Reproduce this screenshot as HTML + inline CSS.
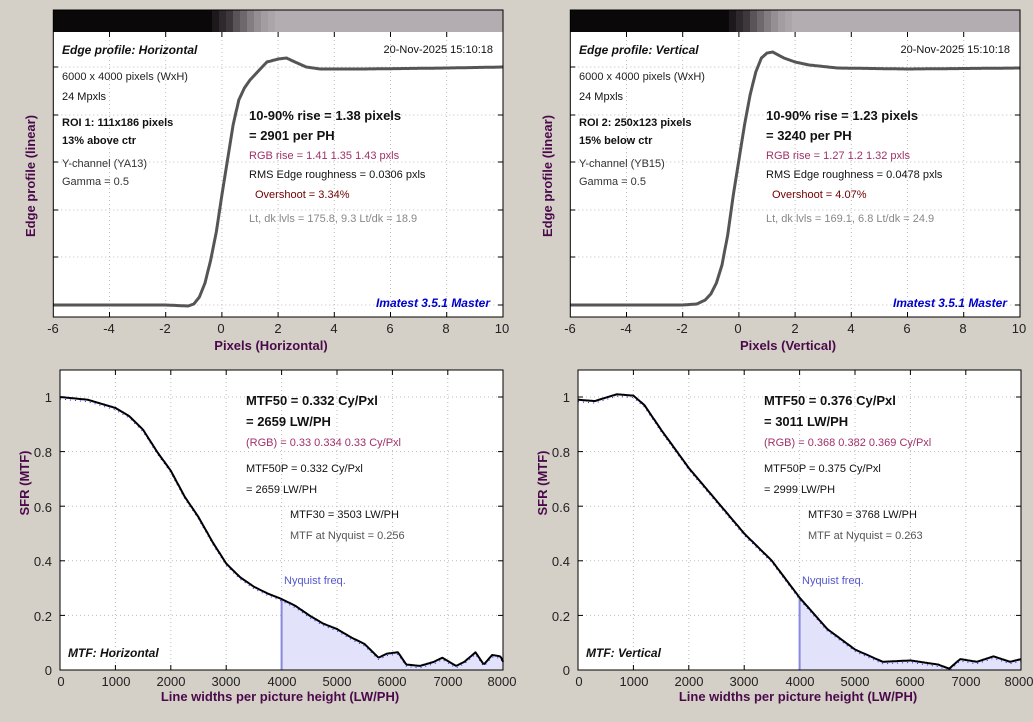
<!DOCTYPE html>
<html><head><meta charset="utf-8"><style>
html,body{margin:0;padding:0;background:#d4d0c8;}
svg{display:block;font-family:"Liberation Sans",sans-serif;}
.t{font-size:11px}
.b{font-size:13px;font-weight:bold}
.tk{font-size:13px}
.ax{font-size:13px;font-weight:bold}
</style></head><body>
<svg id="s" width="1033" height="722" viewBox="0 0 1033 722" xmlns="http://www.w3.org/2000/svg" fill="#111">
<rect width="1033" height="722" fill="#d4d0c8"/>
<g id="dyn"></g>
<!-- Top-left text -->
<text x="62" y="54" class="b" font-style="italic" style="font-size:12px">Edge profile: Horizontal</text>
<text x="493" y="53" class="t" text-anchor="end">20-Nov-2025 15:10:18</text>
<text x="62" y="80" class="t" fill="#222">6000 x 4000 pixels (WxH)</text>
<text x="62" y="100" class="t">24 Mpxls</text>
<text x="62" y="126" class="t" font-weight="bold">ROI 1:  111x186 pixels</text>
<text x="62" y="144" class="t" font-weight="bold">13% above ctr</text>
<text x="62" y="167" class="t" fill="#333">Y-channel  (YA13)</text>
<text x="62" y="185" class="t" fill="#333">Gamma = 0.5</text>
<text x="249" y="120" class="b">10-90% rise = 1.38 pixels</text>
<text x="249" y="140" class="b">= 2901 per PH</text>
<text x="249" y="159" class="t" fill="#a0306a">RGB rise = 1.41  1.35  1.43 pxls</text>
<text x="249" y="178" class="t">RMS Edge roughness = 0.0306 pxls</text>
<text x="255" y="198" class="t" fill="#700000">Overshoot = 3.34%</text>
<text x="249" y="222" class="t" fill="#888">Lt, dk lvls = 175.8, 9.3   Lt/dk = 18.9</text>
<text x="490" y="307" font-size="12" font-weight="bold" font-style="italic" fill="#0000cc" text-anchor="end">Imatest 3.5.1 Master</text>
<text x="271" y="350" class="ax" fill="#4a0a4a" text-anchor="middle">Pixels (Horizontal)</text>
<text transform="translate(35,176) rotate(-90)" class="ax" fill="#4a0a4a" text-anchor="middle">Edge profile (linear)</text>
<!-- Top-right text -->
<text x="579" y="54" class="b" font-style="italic" style="font-size:12px">Edge profile: Vertical</text>
<text x="1010" y="53" class="t" text-anchor="end">20-Nov-2025 15:10:18</text>
<text x="579" y="80" class="t" fill="#222">6000 x 4000 pixels (WxH)</text>
<text x="579" y="100" class="t">24 Mpxls</text>
<text x="579" y="126" class="t" font-weight="bold">ROI 2:  250x123 pixels</text>
<text x="579" y="144" class="t" font-weight="bold">15% below ctr</text>
<text x="579" y="167" class="t" fill="#333">Y-channel  (YB15)</text>
<text x="579" y="185" class="t" fill="#333">Gamma = 0.5</text>
<text x="766" y="120" class="b">10-90% rise = 1.23 pixels</text>
<text x="766" y="140" class="b">= 3240 per PH</text>
<text x="766" y="159" class="t" fill="#a0306a">RGB rise = 1.27  1.2  1.32 pxls</text>
<text x="766" y="178" class="t">RMS Edge roughness = 0.0478 pxls</text>
<text x="772" y="198" class="t" fill="#700000">Overshoot = 4.07%</text>
<text x="766" y="222" class="t" fill="#888">Lt, dk lvls = 169.1, 6.8   Lt/dk = 24.9</text>
<text x="1007" y="307" font-size="12" font-weight="bold" font-style="italic" fill="#0000cc" text-anchor="end">Imatest 3.5.1 Master</text>
<text x="788" y="350" class="ax" fill="#4a0a4a" text-anchor="middle">Pixels (Vertical)</text>
<text transform="translate(552,176) rotate(-90)" class="ax" fill="#4a0a4a" text-anchor="middle">Edge profile (linear)</text>
<!-- Bottom-left text -->
<text x="246" y="405" class="b">MTF50 = 0.332 Cy/Pxl</text>
<text x="246" y="426" class="b">= 2659 LW/PH</text>
<text x="246" y="446" class="t" fill="#a0306a">(RGB) = 0.33  0.334  0.33 Cy/Pxl</text>
<text x="246" y="472" class="t">MTF50P = 0.332 Cy/Pxl</text>
<text x="246" y="493" class="t">= 2659 LW/PH</text>
<text x="290" y="518" class="t">MTF30 = 3503 LW/PH</text>
<text x="290" y="539" class="t" fill="#555">MTF at Nyquist = 0.256</text>
<text x="284" y="584" class="t" fill="#5555cc">Nyquist freq.</text>
<text x="68" y="657" class="b" font-style="italic" style="font-size:12px">MTF: Horizontal</text>
<text x="280" y="701" class="ax" fill="#4a0a4a" text-anchor="middle">Line widths per picture height (LW/PH)</text>
<text transform="translate(29,483) rotate(-90)" class="ax" fill="#4a0a4a" text-anchor="middle">SFR (MTF)</text>
<!-- Bottom-right text -->
<text x="764" y="405" class="b">MTF50 = 0.376 Cy/Pxl</text>
<text x="764" y="426" class="b">= 3011 LW/PH</text>
<text x="764" y="446" class="t" fill="#a0306a">(RGB) = 0.368  0.382  0.369 Cy/Pxl</text>
<text x="764" y="472" class="t">MTF50P = 0.375 Cy/Pxl</text>
<text x="764" y="493" class="t">= 2999 LW/PH</text>
<text x="808" y="518" class="t">MTF30 = 3768 LW/PH</text>
<text x="808" y="539" class="t" fill="#555">MTF at Nyquist = 0.263</text>
<text x="802" y="584" class="t" fill="#5555cc">Nyquist freq.</text>
<text x="586" y="657" class="b" font-style="italic" style="font-size:12px">MTF: Vertical</text>
<text x="798" y="701" class="ax" fill="#4a0a4a" text-anchor="middle">Line widths per picture height (LW/PH)</text>
<text transform="translate(547,483) rotate(-90)" class="ax" fill="#4a0a4a" text-anchor="middle">SFR (MTF)</text>
<!-- tick labels -->
<g class="tk" text-anchor="middle" fill="#222">
<text x="53" y="333">-6</text><text x="109" y="333">-4</text><text x="165" y="333">-2</text><text x="221" y="333">0</text><text x="278" y="333">2</text><text x="334" y="333">4</text><text x="390" y="333">6</text><text x="446" y="333">8</text><text x="502" y="333">10</text>
<text x="570" y="333">-6</text><text x="626" y="333">-4</text><text x="682" y="333">-2</text><text x="738" y="333">0</text><text x="795" y="333">2</text><text x="851" y="333">4</text><text x="907" y="333">6</text><text x="963" y="333">8</text><text x="1019" y="333">10</text>
<text x="61" y="686">0</text><text x="116" y="686">1000</text><text x="171" y="686">2000</text><text x="226" y="686">3000</text><text x="282" y="686">4000</text><text x="337" y="686">5000</text><text x="392" y="686">6000</text><text x="448" y="686">7000</text><text x="502" y="686">8000</text>
<text x="579" y="686">0</text><text x="634" y="686">1000</text><text x="689" y="686">2000</text><text x="744" y="686">3000</text><text x="800" y="686">4000</text><text x="855" y="686">5000</text><text x="910" y="686">6000</text><text x="966" y="686">7000</text><text x="1019" y="686">8000</text>
</g>
<g class="tk" text-anchor="end" fill="#222">
<text x="52" y="675">0</text><text x="52" y="621">0.2</text><text x="52" y="566">0.4</text><text x="52" y="512">0.6</text><text x="52" y="457">0.8</text><text x="52" y="402">1</text>
<text x="570" y="675">0</text><text x="570" y="621">0.2</text><text x="570" y="566">0.4</text><text x="570" y="512">0.6</text><text x="570" y="457">0.8</text><text x="570" y="402">1</text>
</g>
</svg>
<script>
var dyn=document.getElementById('dyn'),h='';
function interp(pts,u){for(var i=1;i<pts.length;i++){if(u<=pts[i][0]){var a=pts[i-1],b=pts[i];var t=(u-a[0])/(b[0]-a[0]);return a[1]+(b[1]-a[1])*t;}}return pts[pts.length-1][1];}
function edge(ox,pts,strip){
 var L=ox+53.3,R=ox+503;
 h+='<rect x="'+L+'" y="32" width="'+(R-L)+'" height="285" fill="#fff"/>';
 h+='<rect x="'+L+'" y="10" width="'+(R-L)+'" height="22" fill="#b3acb1"/>';
 var st=strip;h+='<rect x="'+L+'" y="10" width="'+(st-L)+'" height="22" fill="#0a0808"/>';
 var cs=['#1c181b','#2e292d','#3e383c','#5a5358','#6e676c','#837c81','#958e93','#a39ca1','#aba4a9'];
 for(var i=0;i<cs.length;i++)h+='<rect x="'+(st+i*7)+'" y="10" width="7" height="22" fill="'+cs[i]+'"/>';
 var X=function(u){return L+(u+6)*28.1;};
 [67,115,162,210,257,305].forEach(function(y){h+='<line x1="'+L+'" x2="'+R+'" y1="'+y+'" y2="'+y+'" stroke="#bbb" stroke-dasharray="1,3"/>';h+='<line x1="'+L+'" x2="'+(L+5)+'" y1="'+y+'" y2="'+y+'" stroke="#000"/><line x1="'+(R-5)+'" x2="'+R+'" y1="'+y+'" y2="'+y+'" stroke="#000"/>';});
 for(var u=-4;u<10;u+=2){var x=X(u);h+='<line x1="'+x+'" x2="'+x+'" y1="32" y2="317" stroke="#bbb" stroke-dasharray="1,3"/><line x1="'+x+'" x2="'+x+'" y1="32" y2="37" stroke="#000"/><line x1="'+x+'" x2="'+x+'" y1="312" y2="317" stroke="#000"/>';}
 var p='';for(var u=-6;u<=10.001;u+=0.05){p+=X(u).toFixed(1)+','+interp(pts,u).toFixed(1)+' ';}
 h+='<polyline points="'+p+'" fill="none" stroke="#555" stroke-width="3" stroke-linejoin="round"/>';
 h+='<rect x="'+L+'" y="10" width="'+(R-L)+'" height="307" fill="none" stroke="#000"/>';
}
function mtf(ox,pts){
 var L=ox,R=ox+443,T=370,B=670;
 h+='<rect x="'+L+'" y="'+T+'" width="'+(R-L)+'" height="'+(B-T)+'" fill="#fff"/>';
 var X=function(f){return L+f*0.0554;},Y=function(m){return B-m*273;};
 for(var f=1000;f<8000;f+=1000){var x=X(f);h+='<line x1="'+x+'" x2="'+x+'" y1="'+T+'" y2="'+B+'" stroke="#bbb" stroke-dasharray="1,3"/><line x1="'+x+'" x2="'+x+'" y1="'+(B-5)+'" y2="'+B+'" stroke="#000"/><line x1="'+x+'" x2="'+x+'" y1="'+T+'" y2="'+(T+5)+'" stroke="#000"/>';}
 for(var m=0.2;m<1.01;m+=0.2){var y=Y(m);h+='<line x1="'+L+'" x2="'+R+'" y1="'+y+'" y2="'+y+'" stroke="#bbb" stroke-dasharray="1,3"/><line x1="'+L+'" x2="'+(L+5)+'" y1="'+y+'" y2="'+y+'" stroke="#000"/><line x1="'+(R-5)+'" x2="'+R+'" y1="'+y+'" y2="'+y+'" stroke="#000"/>';}
 var p='',fill=X(4000)+','+B+' ',pb='';
 for(var f=0;f<=8000;f+=20){var v=interp(pts,f);p+=X(f).toFixed(1)+','+Y(v).toFixed(1)+' ';if(f>=4000)fill+=X(f).toFixed(1)+','+Y(v).toFixed(1)+' ';pb+=X(f).toFixed(1)+','+(Y(v)+2).toFixed(1)+' ';}
 fill+=X(8000)+','+B;
 h+='<polygon points="'+fill+'" fill="#e2e2fa"/>';
 h+='<line x1="'+X(4000)+'" x2="'+X(4000)+'" y1="'+B+'" y2="'+Y(interp(pts,4000))+'" stroke="#8888dd" stroke-width="2"/>';
 h+='<polyline points="'+pb+'" fill="none" stroke="#2222ff" stroke-width="1" stroke-dasharray="1,4"/>';
 h+='<polyline points="'+p+'" fill="none" stroke="#000" stroke-width="2" stroke-linejoin="round"/>';
 h+='<rect x="'+L+'" y="'+T+'" width="'+(R-L)+'" height="'+(B-T)+'" fill="none" stroke="#000"/>';
}
edge(0,[[-6,305],[-2,305],[-1.2,306],[-1.0,304],[-0.8,297],[-0.6,283],[-0.4,260],[-0.2,232],[0,195],[0.2,160],[0.4,125],[0.6,100],[0.8,88],[1.0,80],[1.3,71],[1.6,62],[2.0,59],[2.3,58],[2.6,62],[3.0,67],[3.5,69],[5,69],[8,68],[10,67]],212);
edge(517,[[-6,305],[-2,305],[-1.5,304],[-1.2,300],[-1.0,294],[-0.8,283],[-0.6,265],[-0.4,235],[-0.2,195],[0,160],[0.2,125],[0.4,95],[0.6,72],[0.8,58],[1.0,53],[1.2,52],[1.6,58],[2.0,62],[2.5,65],[3.5,68],[6,69],[10,68]],729);
mtf(60,[[0,1.0],[500,0.99],[1000,0.96],[1250,0.93],[1500,0.88],[1750,0.8],[2000,0.73],[2250,0.635],[2500,0.56],[2750,0.47],[3000,0.39],[3250,0.34],[3500,0.305],[3750,0.28],[4000,0.26],[4250,0.235],[4500,0.2],[4750,0.17],[5000,0.15],[5250,0.12],[5500,0.095],[5750,0.045],[5900,0.06],[6100,0.065],[6250,0.02],[6500,0.015],[6750,0.03],[6900,0.045],[7150,0.015],[7300,0.03],[7500,0.065],[7650,0.02],[7800,0.055],[7950,0.05],[8000,0.03]]);
mtf(578,[[0,0.99],[300,0.985],[700,1.01],[1000,1.005],[1200,0.97],[1500,0.88],[2000,0.74],[2500,0.62],[3000,0.5],[3500,0.4],[4000,0.265],[4500,0.15],[5000,0.075],[5500,0.03],[6000,0.035],[6500,0.02],[6700,0.005],[6900,0.04],[7200,0.03],[7500,0.05],[7800,0.03],[8000,0.04]]);
dyn.innerHTML=h;
</script>
</body></html>
